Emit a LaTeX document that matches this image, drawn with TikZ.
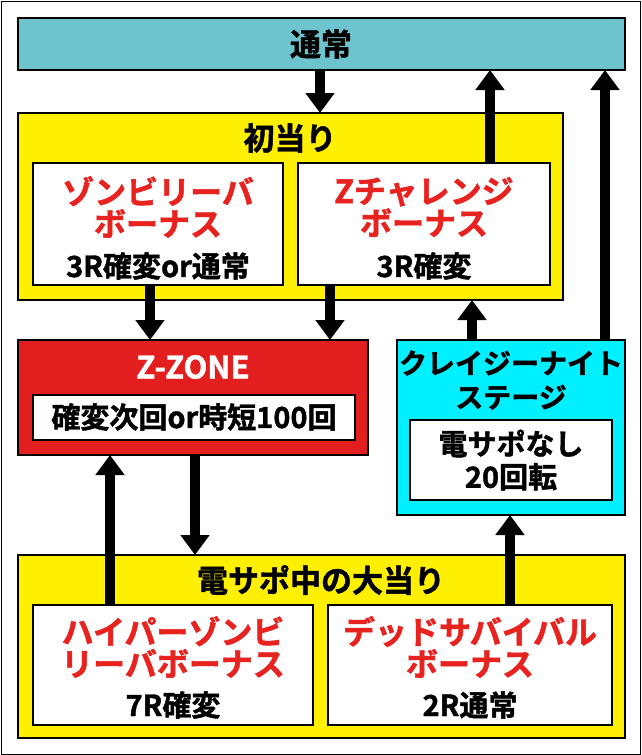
\documentclass[tikz,border=0pt]{standalone}
\usepackage{fontspec}
\newfontfamily\jp{Noto Sans CJK JP Bold}[FakeBold=1.5]
\usetikzlibrary{arrows.meta}
\definecolor{teal1}{HTML}{6EC4CE}
\definecolor{yel}{HTML}{FFEF00}
\definecolor{redb}{HTML}{E21E1E}
\definecolor{cyanb}{HTML}{00F0FF}
\definecolor{redt}{HTML}{E8231F}
\begin{document}
\begin{tikzpicture}[x=1pt,y=-1pt,
  box/.style={draw=black,line width=1.2pt},
  big/.style={font=\jp\fontsize{32}{36}\selectfont,text=redt,align=center},
  sub/.style={font=\jp\fontsize{29}{33}\selectfont,align=center},
  ttl/.style={font=\jp\fontsize{31}{34}\selectfont},
  arr/.style={line width=10pt,-{Triangle[width=28pt,length=20pt]}}]
\useasboundingbox (0,0) rectangle (641,755);
\draw[line width=1pt] (1,1) rectangle (640,754);
% top
\draw[box,fill=teal1] (18,18) rectangle (625,70);
\node[ttl] (top) at (321,44) {通常};
% shoatari
\draw[box,fill=yel] (18,113) rectangle (563,300);
\node[ttl] at (290,138) {初当り};
\draw[box,fill=white] (33,163) rectangle (283,285);
\draw[box,fill=white] (298,163) rectangle (550,285);
\node[big] at (158,207) {ゾンビリーバ\\[-4pt]ボーナス};
\node[sub] at (158,266) {3R確変or通常};
\node[big] at (424,207) {Zチャレンジ\\[-4pt]ボーナス};
\node[sub] at (424,266) {3R確変};
% zzone
\draw[box,fill=redb] (18,340) rectangle (368,455);
\node[ttl,text=white] at (193,367) {Z-ZONE};
\draw[box,fill=white] (33,395) rectangle (355,440);
\node[sub] at (194,417) {確変次回or時短100回};
% crazy
\draw[box,fill=cyanb] (397,340) rectangle (625,515);
\node[sub,font=\jp\fontsize{28}{34}\selectfont] at (511,380) {クレイジーナイト\\ステージ};
\draw[box,fill=white] (410,420) rectangle (612,500);
\node[sub] at (511,460) {電サポなし\\20回転};
% densapo
\draw[box,fill=yel] (18,555) rectangle (625,738);
\node[ttl] at (321,580) {電サポ中の大当り};
\draw[box,fill=white] (33,605) rectangle (313,725);
\draw[box,fill=white] (328,605) rectangle (612,725);
\node[big] at (173,647) {ハイパーゾンビ\\[-4pt]リーバボーナス};
\node[sub] at (173,705) {7R確変};
\node[big] at (470,647) {デッドサバイバル\\[-4pt]ボーナス};
\node[sub] at (470,705) {2R通常};
% arrows
\coordinate (a1) at (320,70); \coordinate (a1e) at (320,113);
\draw[arr] (a1) -- (a1e);
\coordinate (b1) at (490,163); \coordinate (b1e) at (490,70);
\draw[arr] (b1) -- (b1e);
\coordinate (c1) at (605,340); \coordinate (c1e) at (605,70);
\draw[arr] (c1) -- (c1e);
\coordinate (d1) at (150,285); \coordinate (d1e) at (150,340);
\draw[arr] (d1) -- (d1e);
\coordinate (e1) at (330,285); \coordinate (e1e) at (330,340);
\draw[arr] (e1) -- (e1e);
\coordinate (f1) at (472,340); \coordinate (f1e) at (472,300);
\draw[arr] (f1) -- (f1e);
\coordinate (g1) at (195,455); \coordinate (g1e) at (195,555);
\draw[arr] (g1) -- (g1e);
\coordinate (h1) at (110,605); \coordinate (h1e) at (110,455);
\draw[arr] (h1) -- (h1e);
\coordinate (i1) at (510,605); \coordinate (i1e) at (510,515);
\draw[arr] (i1) -- (i1e);
\end{tikzpicture}
\end{document}
